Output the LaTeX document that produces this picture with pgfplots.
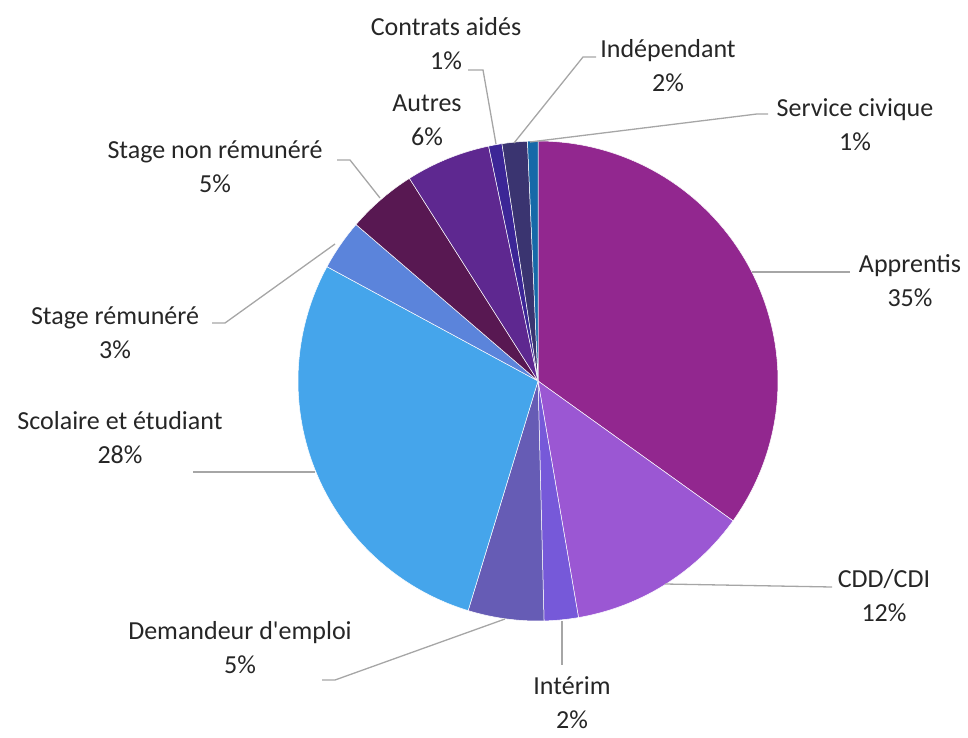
\documentclass[border=0pt]{standalone}
\usepackage{pgfplots}
\pgfplotsset{compat=1.18}
\usepackage{fontspec}
\setmainfont{Carlito}
\definecolor{cApp}{HTML}{92278F}
\definecolor{cCDD}{HTML}{9B57D3}
\definecolor{cInt}{HTML}{7659D9}
\definecolor{cDem}{HTML}{665CB5}
\definecolor{cSco}{HTML}{45A5EB}
\definecolor{cSR}{HTML}{5B84DB}
\definecolor{cSNR}{HTML}{581852}
\definecolor{cAut}{HTML}{5E2890}
\definecolor{cCA}{HTML}{3C2696}
\definecolor{cInd}{HTML}{3A3470}
\definecolor{cSC}{HTML}{1669A8}
\definecolor{lead}{HTML}{A6A6A6}
\definecolor{txt}{HTML}{262626}
% slice: start cumulative %, end cumulative %, colour
\newcommand\slice[3]{%
  \addplot[fill=#3, draw=white, line width=0.5pt, domain={90-3.6*(#2)}:{90-3.6*(#1)}, samples=60, smooth=false]
    ({538+240*cos(x)}, {-381+240*sin(x)}) -- (axis cs:538,-381) -- cycle;}
\begin{document}
\begin{tikzpicture}
\begin{axis}[
  width=968pt, height=737pt, scale only axis,
  xmin=0, xmax=968, ymin=-737, ymax=0,
  hide axis, clip=false,
]
\draw[draw=none] (rel axis cs:0,0) rectangle (rel axis cs:1,1);
% slices (cumulative percentages)
\slice{0}{34.9}{cApp}
\slice{34.9}{47.3}{cCDD}
\slice{47.3}{49.6}{cInt}
\slice{49.6}{54.7}{cDem}
\slice{54.7}{82.9}{cSco}
\slice{82.9}{86.3}{cSR}
\slice{86.3}{91.0}{cSNR}
\slice{91.0}{96.7}{cAut}
\slice{96.7}{97.6}{cCA}
\slice{97.6}{99.3}{cInd}
\slice{99.3}{100}{cSC}
% leader lines
\addplot[lead, line width=1.3pt] coordinates {(752,-272) (850,-272)};
\addplot[lead, line width=1.3pt] coordinates {(665,-584) (832,-587)};
\addplot[lead, line width=1.3pt] coordinates {(562,-621) (562,-665)};
\addplot[lead, line width=1.3pt] coordinates {(505,-619) (335,-680) (322,-680)};
\addplot[lead, line width=1.3pt] coordinates {(315,-472) (193,-472)};
\addplot[lead, line width=1.3pt] coordinates {(335,-244) (225,-323) (212,-323)};
\addplot[lead, line width=1.3pt] coordinates {(380,-198) (350,-160) (337,-160)};
\addplot[lead, line width=1.3pt] coordinates {(496,-144) (483,-70) (468,-70)};
\addplot[lead, line width=1.3pt] coordinates {(514,-143) (583,-57) (596,-57)};
\addplot[lead, line width=1.3pt] coordinates {(530,-142) (757,-114) (768,-114)};
% labels
\tikzset{lab/.style={align=center, text=txt, font=\fontsize{26}{34}\selectfont, inner sep=0pt}}
\node[lab] at (axis cs:910,-281) {Apprentis\\35\%};
\node[lab] at (axis cs:884,-596) {CDD/CDI\\12\%};
\node[lab] at (axis cs:572,-703) {Intérim\\2\%};
\node[lab] at (axis cs:240,-648) {Demandeur d\textquotesingle emploi\\5\%};
\node[lab] at (axis cs:120,-438) {Scolaire et étudiant\\28\%};
\node[lab] at (axis cs:115,-333) {Stage rémunéré\\3\%};
\node[lab] at (axis cs:215,-167) {Stage non rémunéré\\5\%};
\node[lab] at (axis cs:427,-120) {Autres\\6\%};
\node[lab] at (axis cs:446,-44) {Contrats aidés\\1\%};
\node[lab] at (axis cs:668,-66) {Indépendant\\2\%};
\node[lab] at (axis cs:855,-125) {Service civique\\1\%};
\end{axis}
\end{tikzpicture}
\end{document}
